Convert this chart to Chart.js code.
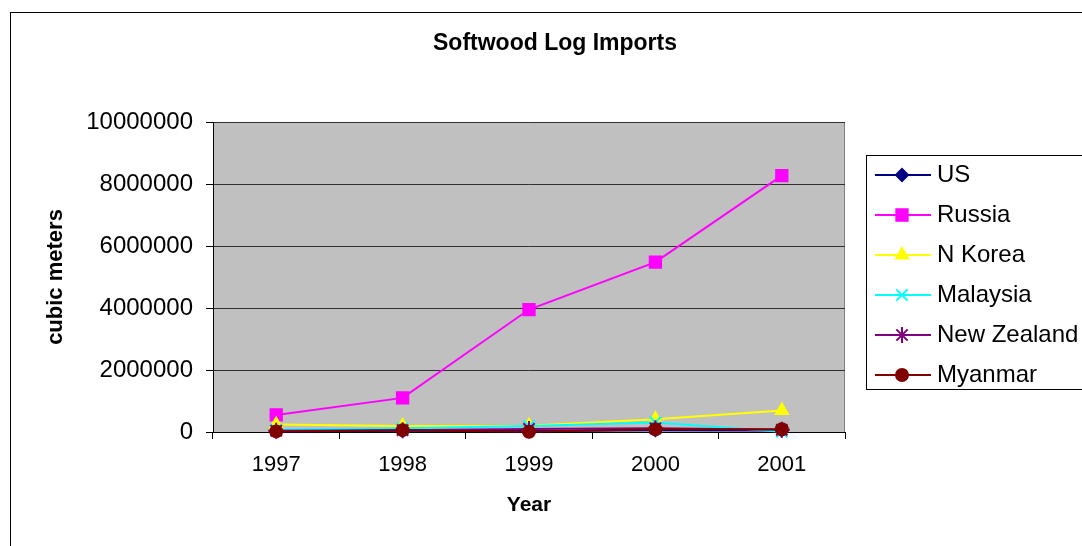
<!DOCTYPE html>
<html lang="en">
<head>
  <meta charset="UTF-8">
  <title>Softwood Log Imports</title>
  <script src="https://cdn.jsdelivr.net/npm/chart.js"></script>
  <style>
    body { margin: 0; background: #fff; }
    #chart-container { width: 1082px; height: 546px; }
  </style>
</head>
<body>
  <div id="chart-container">
    <canvas id="logChart" width="1082" height="546"></canvas>
  </div>

  <script>
    // data
    const years = ['1997', '1998', '1999', '2000', '2001'];
    const us = [20000, 40000, 30000, 60000, 50000];
    const russia = [550000, 1100000, 3950000, 5480000, 8270000];
    const nKorea = [240000, 190000, 200000, 410000, 690000];
    const malaysia = [70000, 120000, 190000, 310000, 10000];
    const newZealand = [40000, 60000, 100000, 120000, 70000];
    const myanmar = [20000, 60000, 10000, 90000, 90000];
    const yTicks = [0, 2000000, 4000000, 6000000, 8000000, 10000000];

    const font = 'Liberation Sans, Arial, sans-serif';
    const chartTitle = 'Softwood Log Imports';

    function series(label, data, color, style, radius, order) {
      return {
        label: label,
        data: data,
        borderColor: color,
        backgroundColor: color,
        borderWidth: 2,
        pointStyle: style,
        pointRadius: radius,
        pointHoverRadius: radius,
        pointBorderWidth: 2,
        pointBackgroundColor: color,
        pointBorderColor: color,
        tension: 0,
        clip: false,
        order: order
      };
    }

    const datasets = [
      series('US', us, '#000080', 'rectRot', 6, 5),
      series('Russia', russia, '#FF00FF', 'rect', 8, 4),
      series('N Korea', nKorea, '#FFFF00', 'triangle', 7, 3),
      series('Malaysia', malaysia, '#00FFFF', 'crossRot', 8, 2),
      series('New Zealand', newZealand, '#800080', 'star', 8, 1),
      series('Myanmar', myanmar, '#800000', 'circle', 6, 0)
    ];

    // gray plot area, outer frame and title
    const background = {
      id: 'background',
      beforeDraw(chart) {
        const { ctx, chartArea: a } = chart;
        ctx.save();
        ctx.fillStyle = '#C0C0C0';
        ctx.fillRect(a.left, a.top, a.right - a.left, a.bottom - a.top);
        ctx.strokeStyle = '#808080';
        ctx.lineWidth = 1;
        ctx.strokeRect(a.left + 0.5, a.top + 0.5, a.right - a.left - 1, a.bottom - a.top);
        ctx.strokeStyle = '#000';
        ctx.strokeRect(10.5, 12.5, 1200, 700);
        ctx.fillStyle = '#000';
        ctx.font = 'bold 23px ' + font;
        ctx.textAlign = 'center';
        ctx.textBaseline = 'middle';
        ctx.fillText(chartTitle, 555, 44);
        ctx.restore();
      }
    };

    // legend box on the right, line + marker like the original
    const sideLegend = {
      id: 'sideLegend',
      afterDraw(chart) {
        const ctx = chart.ctx;
        ctx.save();
        ctx.fillStyle = '#fff';
        ctx.fillRect(866, 155, 300, 234);
        ctx.strokeStyle = '#000';
        ctx.lineWidth = 1;
        ctx.strokeRect(866.5, 155.5, 300, 234);
        chart.data.datasets.forEach((ds, i) => {
          const y = 175 + i * 40;
          ctx.strokeStyle = ds.borderColor;
          ctx.lineWidth = 2;
          ctx.beginPath();
          ctx.moveTo(875, y);
          ctx.lineTo(931, y);
          ctx.stroke();
          const opts = {
            pointStyle: ds.pointStyle,
            radius: ds.pointRadius,
            rotation: 0,
            borderWidth: 2
          };
          ctx.fillStyle = ds.borderColor;
          if (Chart.helpers && Chart.helpers.drawPoint) {
            Chart.helpers.drawPoint(ctx, opts, 902, y);
          }
          ctx.fillStyle = '#000';
          ctx.font = '24px ' + font;
          ctx.textBaseline = 'middle';
          ctx.textAlign = 'left';
          ctx.fillText(ds.label, 937, y);
        });
        ctx.restore();
      }
    };

    new Chart(document.getElementById('logChart').getContext('2d'), {
      type: 'line',
      data: { labels: years, datasets: datasets },
      options: {
        responsive: false,
        animation: false,
        layout: { padding: { left: 0, right: 237, top: 122, bottom: 0 } },
        plugins: {
          legend: { display: false },
          tooltip: { enabled: false },
          title: { display: false }
        },
        scales: {
          x: {
            offset: true,
            grid: { offset: true, drawOnChartArea: false, tickLength: 7, tickColor: '#000' },
            border: { color: '#000', width: 1 },
            ticks: { color: '#000', padding: 13, font: { family: font, size: 22 } },
            title: {
              display: true,
              text: 'Year',
              color: '#000',
              font: { family: font, size: 21, weight: 'bold' },
              padding: { top: 0, bottom: 28 }
            },
            afterFit(scale) { scale.height = 114; }
          },
          y: {
            min: 0,
            max: 10000000,
            afterBuildTicks(scale) { scale.ticks = yTicks.map(v => ({ value: v })); },
            grid: { color: '#303030', tickLength: 7, tickColor: '#000' },
            border: { color: '#000', width: 1 },
            ticks: {
              color: '#000',
              padding: 13,
              font: { family: font, size: 24 },
              callback: v => String(v)
            },
            title: {
              display: true,
              text: 'cubic meters',
              color: '#000',
              font: { family: font, size: 22, weight: 'bold' },
              padding: { top: 43, bottom: 0 }
            },
            afterFit(scale) { scale.width = 213; }
          }
        }
      },
      plugins: [background, sideLegend]
    });
  </script>
</body>
</html>
